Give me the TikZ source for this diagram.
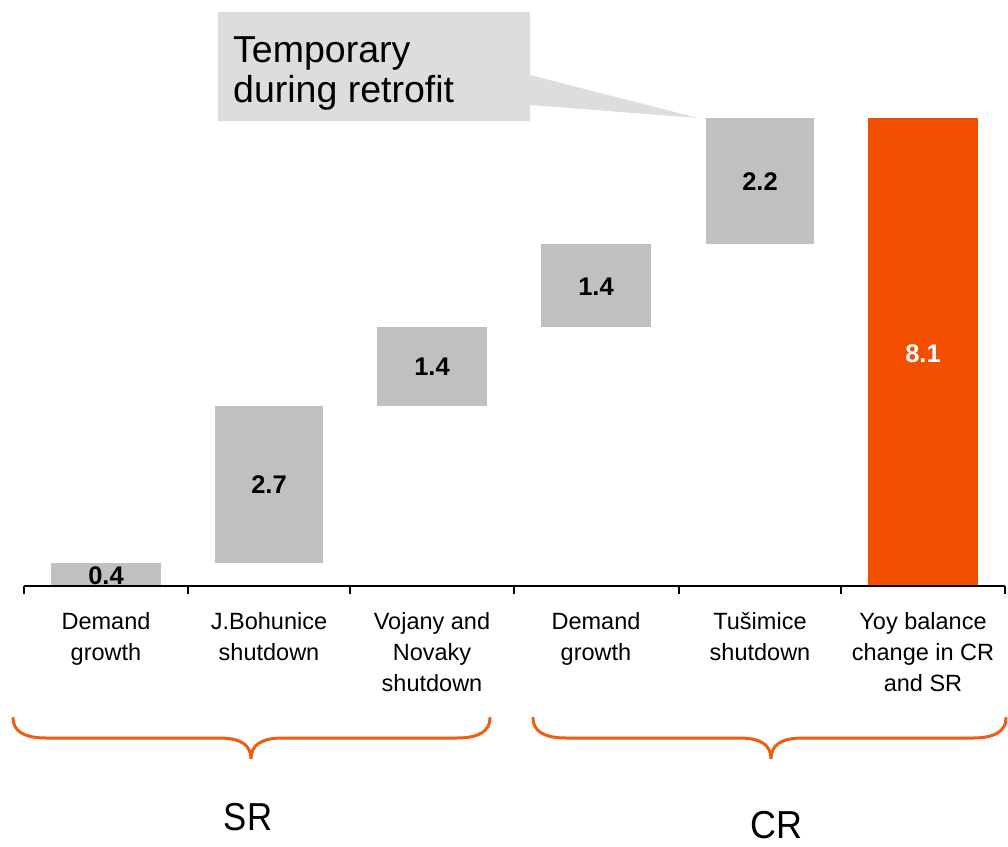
\documentclass[tikz,border=0pt]{standalone}
\usepackage{fontspec}
\setmainfont{Liberation Sans}
\definecolor{bargray}{RGB}{192,192,192}
\definecolor{callgray}{RGB}{221,221,221}
\definecolor{barorange}{RGB}{242,80,0}
\definecolor{braceorange}{RGB}{240,92,16}
\tikzset{
  catlabel/.style={anchor=base, align=center, inner sep=0pt, font=\fontsize{23.5}{31}\selectfont},
  vallabel/.style={anchor=base, inner sep=0pt, font=\fontsize{25.5}{30}\selectfont\bfseries},
  brace/.style={draw=braceorange, line width=3pt, line cap=round},
  grouplabel/.style={anchor=base, inner sep=0pt, font=\fontsize{39}{44}\selectfont},
  axisline/.style={draw=black, line width=1.4pt}
}
\begin{document}
\begin{tikzpicture}[x=1pt,y=-1pt]
\useasboundingbox (0,0) rectangle (1008,846);
% callout
\fill[callgray] (218,12) -- (530,12) -- (530,75) -- (698,118) -- (530,105) -- (530,121) -- (218,121) -- cycle;
\node[anchor=base west, align=left, inner sep=0pt, font=\fontsize{37.5}{40}\selectfont] (callout) at (233,102) {Temporary\\during retrofit};
% bars
\fill[bargray] (51,563) rectangle (161,586);
\fill[bargray] (215,406) rectangle (323,563);
\fill[bargray] (377,327) rectangle (487,406);
\fill[bargray] (541,244) rectangle (651,327);
\fill[bargray] (706,118) rectangle (814,244);
\fill[barorange] (868,118) rectangle (978,586);
% values
\node[vallabel] (v1) at (106,584) {0.4};
\node[vallabel] (v2) at (269,493) {2.7};
\node[vallabel] (v3) at (432,375) {1.4};
\node[vallabel] (v4) at (596,295) {1.4};
\node[vallabel] (v5) at (760,190) {2.2};
\node[vallabel, text=white] (v6) at (923,362) {8.1};
% axis
\draw[axisline] (24,586) -- (1005,586);
\foreach \x in {24,188,350,514,679,841,1005} \draw[axisline] (\x,586) -- (\x,594);
% category labels (base = last line's baseline)
\node[catlabel] (c1) at (106,660) {Demand\\growth};
\node[catlabel] (c2) at (269,660) {J.Bohunice\\shutdown};
\node[catlabel] (c3) at (432,691) {Vojany and\\Novaky\\shutdown};
\node[catlabel] (c4) at (596,660) {Demand\\growth};
\node[catlabel] (c5) at (760,660) {Tušimice\\shutdown};
\node[catlabel] (c6) at (923,691) {Yoy balance\\change in CR\\and SR};
% braces
\draw[brace] (13,718) .. controls (13,731) and (24,738) .. (46,738) -- (219,738) .. controls (241,738) and (251,745) .. (251,759)
  .. controls (251,745) and (261,738) .. (283,738) -- (457,738) .. controls (479,738) and (490,731) .. (490,718);
\draw[brace] (533,718) .. controls (533,731) and (544,738) .. (566,738) -- (739,738) .. controls (761,738) and (771,745) .. (771,759)
  .. controls (771,745) and (781,738) .. (803,738) -- (973,738) .. controls (995,738) and (1006,731) .. (1006,718);
% group labels
\node[grouplabel, xscale=0.89] (sr) at (248,830) {SR};
\node[grouplabel, xscale=0.92] (cr) at (776,838) {CR};
\end{tikzpicture}
\end{document}
